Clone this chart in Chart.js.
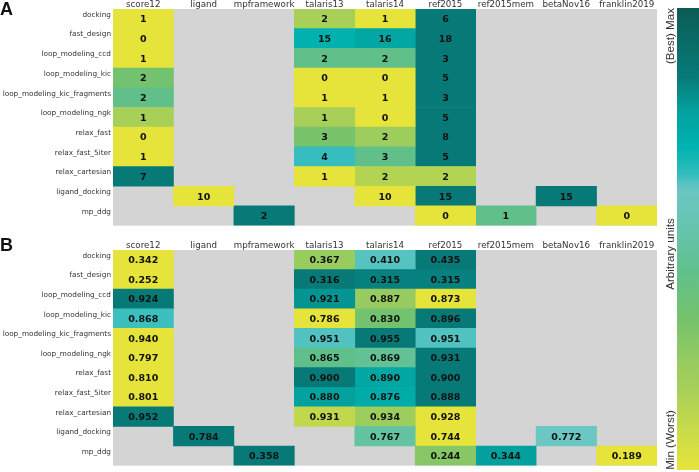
<!DOCTYPE html>
<html>
<head>
<meta charset="utf-8">
<script src="https://cdn.jsdelivr.net/npm/chart.js@4.4.1/dist/chart.umd.min.js"></script>
<style>
    html, body { margin: 0; padding: 0; background: #fff; }
    #wrap { position: relative; width: 699px; height: 472px; overflow: hidden; }
    canvas { position: absolute; }
</style>
</head>
<body>
<div id="wrap">
    <canvas id="graficoA" width="660" height="232" style="left:0;top:0"></canvas>
    <canvas id="graficoB" width="660" height="236" style="left:0;top:236px"></canvas>
    <canvas id="barraCores" width="39" height="472" style="left:660px;top:0"></canvas>
</div>
<script>
// linhas (testes) e colunas (funções de score)
const testes = ['docking', 'fast_design', 'loop_modeling_ccd', 'loop_modeling_kic',
    'loop_modeling_kic_fragments', 'loop_modeling_ngk', 'relax_fast', 'relax_fast_5iter',
    'relax_cartesian', 'ligand_docking', 'mp_ddg'];
const funcoes = ['score12', 'ligand', 'mpframework', 'talaris13', 'talaris14',
    'ref2015', 'ref2015mem', 'betaNov16', 'franklin2019'];

// painel A - contagens
const aScore12 = [1, 0, 1, 2, 2, 1, 0, 1, 7, null, null];
const aLigand = [null, null, null, null, null, null, null, null, null, 10, null];
const aMpframework = [null, null, null, null, null, null, null, null, null, null, 2];
const aTalaris13 = [2, 15, 2, 0, 1, 1, 3, 4, 1, null, null];
const aTalaris14 = [1, 16, 2, 0, 1, 0, 2, 3, 2, 10, null];
const aRef2015 = [6, 18, 3, 5, 3, 5, 8, 5, 2, 15, 0];
const aRef2015mem = [null, null, null, null, null, null, null, null, null, null, 1];
const aBetaNov16 = [null, null, null, null, null, null, null, null, null, 15, null];
const aFranklin2019 = [null, null, null, null, null, null, null, null, null, null, 0];

// painel B - valores
const bScore12 = [0.342, 0.252, 0.924, 0.868, 0.940, 0.797, 0.810, 0.801, 0.952, null, null];
const bLigand = [null, null, null, null, null, null, null, null, null, 0.784, null];
const bMpframework = [null, null, null, null, null, null, null, null, null, null, 0.358];
const bTalaris13 = [0.367, 0.316, 0.921, 0.786, 0.951, 0.865, 0.900, 0.880, 0.931, null, null];
const bTalaris14 = [0.410, 0.315, 0.887, 0.830, 0.955, 0.869, 0.890, 0.876, 0.934, 0.767, null];
const bRef2015 = [0.435, 0.315, 0.873, 0.896, 0.951, 0.931, 0.900, 0.888, 0.928, 0.744, 0.244];
const bRef2015mem = [null, null, null, null, null, null, null, null, null, null, 0.344];
const bBetaNov16 = [null, null, null, null, null, null, null, null, null, 0.772, null];
const bFranklin2019 = [null, null, null, null, null, null, null, null, null, null, 0.189];

const colunasA = [aScore12, aLigand, aMpframework, aTalaris13, aTalaris14, aRef2015, aRef2015mem, aBetaNov16, aFranklin2019];
const colunasB = [bScore12, bLigand, bMpframework, bTalaris13, bTalaris14, bRef2015, bRef2015mem, bBetaNov16, bFranklin2019];

const paradas = [[0, '#e6e43a'], [0.1, '#c4d94c'], [0.17, '#a8d058'], [0.25, '#92ca62'],
    [0.33, '#74c26c'], [0.43, '#60c08c'], [0.52, '#66c4ac'], [0.6, '#6cc6c2'],
    [0.62, '#58c3c0'], [0.64, '#30bdbd'], [0.7, '#00b3b0'], [0.78, '#03a09d'],
    [0.85, '#077a78'], [1, '#0c5c55']];

function hexParaRgb(h) {
    return [parseInt(h.slice(1, 3), 16), parseInt(h.slice(3, 5), 16), parseInt(h.slice(5, 7), 16)];
}

function corDoMapa(v) {
    for (let i = 1; i < paradas.length; i++) {
        if (v <= paradas[i][0]) {
            const p0 = paradas[i - 1], p1 = paradas[i];
            const f = (v - p0[0]) / (p1[0] - p0[0]);
            const c0 = hexParaRgb(p0[1]), c1 = hexParaRgb(p1[1]);
            const c = c0.map((x, k) => Math.round(x + (c1[k] - x) * f));
            return `rgb(${c[0]},${c[1]},${c[2]})`;
        }
    }
    return paradas[paradas.length - 1][1];
}

// cor normalizada por linha
function coresPorLinha(colunas) {
    return colunas.map(col => col.map((v, r) => {
        if (v == null) return null;
        const linha = colunas.map(c => c[r]).filter(x => x != null);
        const min = Math.min(...linha), max = Math.max(...linha);
        const t = max > min ? (v - min) / (max - min) : 0;
        return corDoMapa(0.85 * t);
    }));
}

const fundoCinza = {
    id: 'fundoCinza',
    beforeDatasetsDraw(chart) {
        const a = chart.chartArea;
        chart.ctx.save();
        chart.ctx.fillStyle = '#d4d4d4';
        chart.ctx.fillRect(a.left, a.top, a.right - a.left, a.bottom - a.top);
        chart.ctx.restore();
    }
};

function criarHeatmap(id, colunas, casas, letra, alturaTopo) {
    const cores = coresPorLinha(colunas);
    const datasets = colunas.map((col, c) => ({
        label: funcoes[c],
        data: col.map(v => v == null ? null : [c, c + 1]),
        valores: col,
        backgroundColor: cores[c],
        borderWidth: 0,
        barPercentage: 1,
        categoryPercentage: 1,
        grouped: false
    }));

    const textos = {
        id: 'textos',
        afterDatasetsDraw(chart) {
            const ctx = chart.ctx;
            ctx.save();
            ctx.font = "bold 9.5px 'DejaVu Sans'";
            ctx.fillStyle = '#111';
            ctx.textAlign = 'center';
            ctx.textBaseline = 'middle';
            chart.data.datasets.forEach((ds, i) => {
                chart.getDatasetMeta(i).data.forEach((el, r) => {
                    const v = ds.valores[r];
                    if (v == null) return;
                    ctx.fillText(v.toFixed(casas), (el.x + el.base) / 2, el.y + 1);
                });
            });
            ctx.font = "bold 18px 'Liberation Sans'";
            ctx.textAlign = 'left';
            ctx.textBaseline = 'alphabetic';
            ctx.fillText(letra, 0, 15);
            ctx.restore();
        }
    };

    return new Chart(document.getElementById(id), {
        type: 'bar',
        data: { labels: testes, datasets: datasets },
        options: {
            indexAxis: 'y',
            responsive: false,
            animation: false,
            layout: { padding: { left: 0, right: 3, top: 0, bottom: 1 } },
            plugins: { legend: { display: false }, tooltip: { enabled: false } },
            scales: {
                x: {
                    type: 'linear',
                    position: 'top',
                    min: 0,
                    max: funcoes.length,
                    afterFit: s => { s.height = alturaTopo; },
                    afterBuildTicks: s => { s.ticks = funcoes.map((f, i) => ({ value: i + 0.5 })); },
                    grid: { display: false, drawTicks: false },
                    border: { display: false },
                    ticks: {
                        autoSkip: false,
                        maxRotation: 0,
                        padding: -1,
                        color: '#333',
                        font: { family: 'DejaVu Sans', size: 8.7 },
                        callback: (v, i) => funcoes[i]
                    }
                },
                y: {
                    afterFit: s => { s.width = 113; },
                    grid: { display: false, drawTicks: false },
                    border: { display: false },
                    ticks: {
                        padding: 2,
                        labelOffset: -4,
                        color: '#333',
                        font: { family: 'DejaVu Sans', size: 7.3 }
                    }
                }
            }
        },
        plugins: [fundoCinza, textos]
    });
}

criarHeatmap('graficoA', colunasA, 0, 'A', 9);
criarHeatmap('graficoB', colunasB, 3, 'B', 14);

// barra de cores
const rotulosBarra = {
    id: 'rotulosBarra',
    afterDraw(chart) {
        const ctx = chart.ctx;
        ctx.save();
        ctx.font = "11.6px 'Liberation Sans'";
        ctx.fillStyle = '#333';
        ctx.textAlign = 'center';
        ctx.textBaseline = 'middle';
        [['(Best) Max', 36], ['Arbitrary units', 254], ['Min (Worst)', 440]].forEach(([t, y]) => {
            ctx.save();
            ctx.translate(11, y);
            ctx.rotate(-Math.PI / 2);
            ctx.fillText(t, 0, 0);
            ctx.restore();
        });
        ctx.restore();
    }
};

new Chart(document.getElementById('barraCores'), {
    type: 'bar',
    data: {
        labels: [''],
        datasets: [{
            data: [1],
            borderWidth: 0,
            barPercentage: 1,
            categoryPercentage: 1,
            backgroundColor: function (context) {
                const a = context.chart.chartArea;
                if (!a) return null;
                const g = context.chart.ctx.createLinearGradient(0, a.bottom, 0, a.top);
                paradas.forEach(p => g.addColorStop(p[0], p[1]));
                return g;
            }
        }]
    },
    options: {
        responsive: false,
        animation: false,
        layout: { padding: { left: 17, right: 0, top: 8, bottom: 2 } },
        plugins: { legend: { display: false }, tooltip: { enabled: false } },
        scales: {
            x: { display: false },
            y: { display: false, min: 0, max: 1 }
        }
    },
    plugins: [rotulosBarra]
});
</script>
</body>
</html>
